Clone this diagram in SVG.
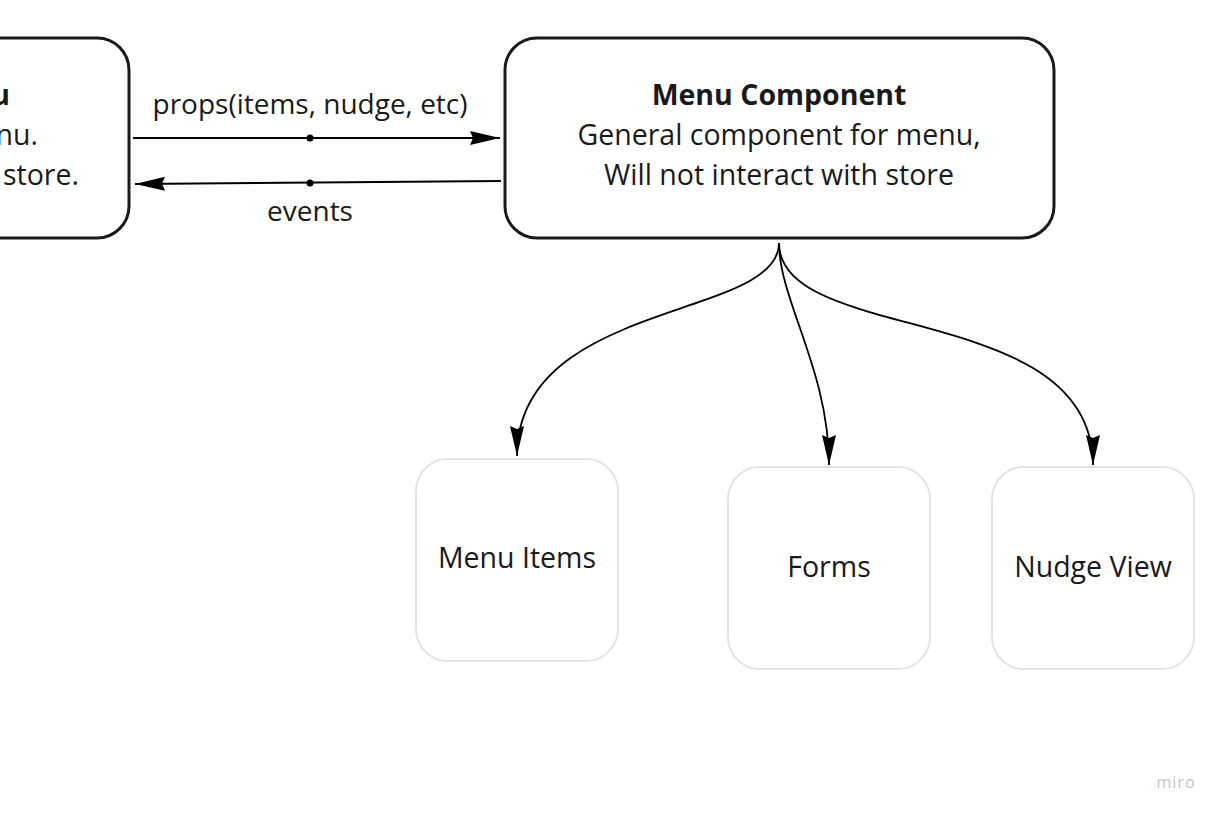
<svg xmlns="http://www.w3.org/2000/svg" width="1224" height="816" viewBox="0 0 1224 816">
<style>
text{font-family:"Open Sans","Liberation Sans",sans-serif;fill:#1a1a1a}
.main{fill:#fff;stroke:#1a1a1a;stroke-width:3}
.sub{fill:#fff;stroke:#e3e3e3;stroke-width:2}
.t{font-size:28.5px;text-anchor:middle}
.b{font-weight:bold}
.c{fill:none;stroke:#000;stroke-width:1.8}
.lbl{font-size:28px;text-anchor:middle}
.e{text-anchor:end}
</style>
<defs>
<marker id="ah" viewBox="0 0 30 14" refX="30" refY="7" markerWidth="30" markerHeight="14" markerUnits="userSpaceOnUse" orient="auto">
<path d="M0,0 L30,7 L0,14 L3,7 Z" fill="#000"/>
</marker>
</defs>
<rect width="1224" height="816" fill="#fff"/>
<g id="left-node">
<rect class="main" x="-420" y="38" width="549" height="200" rx="32"/>
<text class="t b e" x="10" y="105" style="text-anchor:end">u</text>
<text class="t e" x="38" y="145" style="text-anchor:end">nu.</text>
<text class="t e" x="79" y="185" style="text-anchor:end">store.</text>
</g>
<g id="menu-component">
<rect class="main" x="505" y="38" width="549" height="200" rx="32"/>
<text class="t b" x="779" y="105">Menu Component</text>
<text class="t" x="779" y="145">General component for menu,</text>
<text class="t" x="779" y="185">Will not interact with store</text>
</g>
<g id="menu-items">
<rect class="sub" x="416" y="459" width="202" height="202" rx="32"/>
<text class="t" x="517" y="568">Menu Items</text>
</g>
<g id="forms">
<rect class="sub" x="728" y="467" width="202" height="202" rx="32"/>
<text class="t" x="829" y="577">Forms</text>
</g>
<g id="nudge-view">
<rect class="sub" x="992" y="467" width="202" height="202" rx="32"/>
<text class="t" x="1093" y="577">Nudge View</text>
</g>
<g id="connectors">
<path class="c" d="M133,138 L500,138" marker-end="url(#ah)"/>
<circle cx="310" cy="138" r="3.5" fill="#000"/>
<text class="lbl" x="310" y="114">props(items, nudge, etc)</text>
<path class="c" d="M501,181 L135,184" marker-end="url(#ah)"/>
<circle cx="310" cy="183" r="3.5" fill="#000"/>
<text class="lbl" x="310" y="221">events</text>
<path class="c" d="M779,243 C779,320 517,300 517,456" marker-end="url(#ah)"/>
<path class="c" d="M779,243 C779,300 829,370 829,465" marker-end="url(#ah)"/>
<path class="c" d="M779,243 C779,345 1093,300 1093,465" marker-end="url(#ah)"/>
</g>
<text x="1176" y="788" style="font-size:16px;fill:#c4c4cc;text-anchor:middle;letter-spacing:1px">miro</text>
</svg>
